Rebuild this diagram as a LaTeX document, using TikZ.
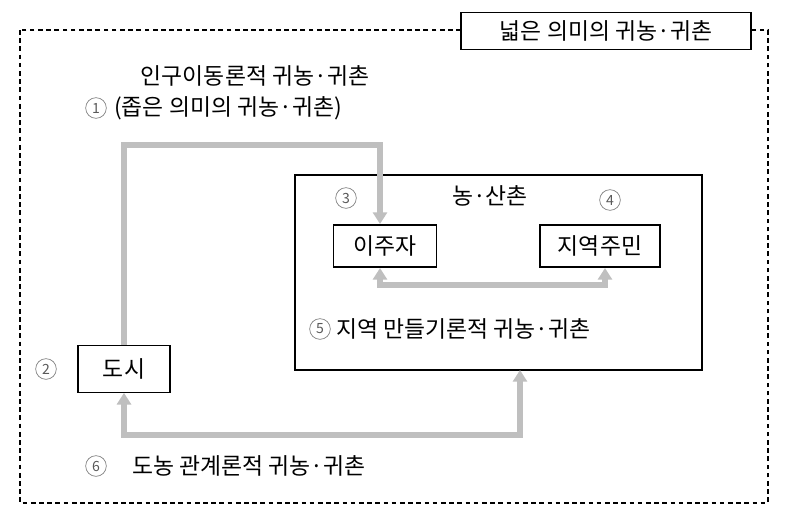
\documentclass[tikz,border=0pt]{standalone}
\usepackage{fontspec}
\setmainfont{Noto Sans CJK KR}
\usetikzlibrary{arrows.meta}
\begin{document}
\begin{tikzpicture}[x=0.03cm,y=-0.03cm,
  lbl/.style={font=\fontsize{19.5}{22}\selectfont},
  box/.style={draw,line width=0.9pt,fill=white,font=\fontsize{19.5}{22}\selectfont,inner sep=0pt},
  num/.style={draw=gray,circle,line width=0.6pt,minimum size=0.62cm,inner sep=0pt,text=gray!70!black,font=\fontsize{12}{14}\selectfont},
  garrow/.style={draw=gray!50,line width=0.2cm,-{Triangle[length=0.35cm,width=0.42cm]}},
  gboth/.style={draw=gray!50,line width=0.2cm,{Triangle[length=0.35cm,width=0.42cm]}-{Triangle[length=0.35cm,width=0.42cm]}}]
\useasboundingbox (0,0) rectangle (787,519);
\draw[dash pattern=on 4pt off 3pt,line width=1pt] (20,30) rectangle (768,503);
\node[box,minimum width=8.7cm,minimum height=1.1cm] (wide) at (606,31) {넓은 의미의 귀농·귀촌};
\node[lbl] (t1) at (255,76) {인구이동론적 귀농·귀촌};
\node[num] (n1) at (96,108) {1};
\node[lbl,anchor=west] (t1b) at (110,108) {(좁은 의미의 귀농·귀촌)};
\draw[line width=0.9pt] (295,175) rectangle (702,370);
\coordinate (inbot) at (520,370);
\node[lbl] (rural) at (490,196) {농·산촌};
\node[num] (n3) at (346,198) {3};
\node[num] (n4) at (610,200) {4};
\node[box,minimum width=3.1cm,minimum height=1.26cm] (mig) at (385,246) {이주자};
\node[box,minimum width=3.6cm,minimum height=1.26cm] (res) at (600,246) {지역주민};
\node[num] (n5) at (320,329) {5};
\node[lbl,anchor=west] (t5) at (332,329) {지역 만들기론적 귀농·귀촌};
\node[num] (n2) at (46,369) {2};
\node[box,minimum width=2.76cm,minimum height=1.4cm] (city) at (124,369) {도시};
\node[num] (n6) at (96,466) {6};
\node[lbl,anchor=west] (t6) at (128,466) {도농 관계론적 귀농·귀촌};
\draw[garrow] (city.north) -- (124,145) -- (380,145) -- (380,224);
\draw[gboth] (380,268) -- (380,285) -- (605,285) -- (605,268);
\draw[gboth] (inbot) -- (520,435) -- (124,435) -- (city.south);
\end{tikzpicture}
\end{document}
